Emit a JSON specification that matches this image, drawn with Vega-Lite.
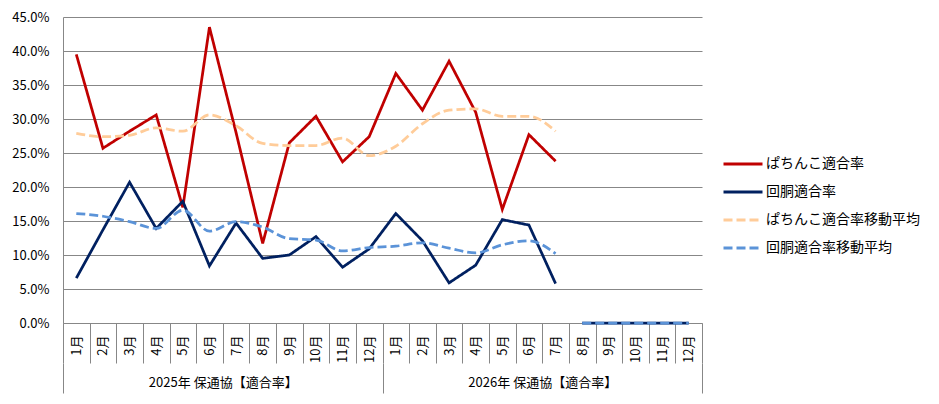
{
  "$schema": "https://vega.github.io/schema/vega-lite/v6.json",
  "autosize": {"type": "none"},
  "width": 639,
  "height": 306,
  "padding": {"left": 63, "top": 17, "right": 237, "bottom": 81},
  "background": "white",
  "config": {
    "font": "Noto Sans CJK JP",
    "view": {"stroke": null},
    "axis": {"labelColor": "#000", "domainColor": "#878787", "tickColor": "#878787", "gridColor": "#878787", "labelFont": "Noto Sans CJK JP"}
  },
  "data": {
    "values": [
      {"ym": "2025年1月", "year": "2025年 保通協【適合率】", "part": "a", "ぱちんこ適合率": 0.395, "回胴適合率": 0.066, "ぱちんこ適合率移動平均": 0.279, "回胴適合率移動平均": 0.161},
      {"ym": "2025年2月", "year": "2025年 保通協【適合率】", "part": "a", "ぱちんこ適合率": 0.257, "回胴適合率": 0.137, "ぱちんこ適合率移動平均": 0.274, "回胴適合率移動平均": 0.157},
      {"ym": "2025年3月", "year": "2025年 保通協【適合率】", "part": "a", "ぱちんこ適合率": 0.282, "回胴適合率": 0.207, "ぱちんこ適合率移動平均": 0.276, "回胴適合率移動平均": 0.149},
      {"ym": "2025年4月", "year": "2025年 保通協【適合率】", "part": "a", "ぱちんこ適合率": 0.306, "回胴適合率": 0.139, "ぱちんこ適合率移動平均": 0.287, "回胴適合率移動平均": 0.139},
      {"ym": "2025年5月", "year": "2025年 保通協【適合率】", "part": "a", "ぱちんこ適合率": 0.170, "回胴適合率": 0.179, "ぱちんこ適合率移動平均": 0.282, "回胴適合率移動平均": 0.166},
      {"ym": "2025年6月", "year": "2025年 保通協【適合率】", "part": "a", "ぱちんこ適合率": 0.435, "回胴適合率": 0.084, "ぱちんこ適合率移動平均": 0.306, "回胴適合率移動平均": 0.135},
      {"ym": "2025年7月", "year": "2025年 保通協【適合率】", "part": "a", "ぱちんこ適合率": 0.280, "回胴適合率": 0.147, "ぱちんこ適合率移動平均": 0.290, "回胴適合率移動平均": 0.149},
      {"ym": "2025年8月", "year": "2025年 保通協【適合率】", "part": "a", "ぱちんこ適合率": 0.117, "回胴適合率": 0.095, "ぱちんこ適合率移動平均": 0.264, "回胴適合率移動平均": 0.141},
      {"ym": "2025年9月", "year": "2025年 保通協【適合率】", "part": "a", "ぱちんこ適合率": 0.265, "回胴適合率": 0.100, "ぱちんこ適合率移動平均": 0.261, "回胴適合率移動平均": 0.124},
      {"ym": "2025年10月", "year": "2025年 保通協【適合率】", "part": "a", "ぱちんこ適合率": 0.304, "回胴適合率": 0.127, "ぱちんこ適合率移動平均": 0.261, "回胴適合率移動平均": 0.122},
      {"ym": "2025年11月", "year": "2025年 保通協【適合率】", "part": "a", "ぱちんこ適合率": 0.237, "回胴適合率": 0.082, "ぱちんこ適合率移動平均": 0.272, "回胴適合率移動平均": 0.106},
      {"ym": "2025年12月", "year": "2025年 保通協【適合率】", "part": "a", "ぱちんこ適合率": 0.274, "回胴適合率": 0.109, "ぱちんこ適合率移動平均": 0.246, "回胴適合率移動平均": 0.111},
      {"ym": "2026年1月", "year": "2026年 保通協【適合率】", "part": "a", "ぱちんこ適合率": 0.367, "回胴適合率": 0.161, "ぱちんこ適合率移動平均": 0.260, "回胴適合率移動平均": 0.113},
      {"ym": "2026年2月", "year": "2026年 保通協【適合率】", "part": "a", "ぱちんこ適合率": 0.313, "回胴適合率": 0.121, "ぱちんこ適合率移動平均": 0.293, "回胴適合率移動平均": 0.118},
      {"ym": "2026年3月", "year": "2026年 保通協【適合率】", "part": "a", "ぱちんこ適合率": 0.385, "回胴適合率": 0.059, "ぱちんこ適合率移動平均": 0.313, "回胴適合率移動平均": 0.110},
      {"ym": "2026年4月", "year": "2026年 保通協【適合率】", "part": "a", "ぱちんこ適合率": 0.310, "回胴適合率": 0.085, "ぱちんこ適合率移動平均": 0.315, "回胴適合率移動平均": 0.103},
      {"ym": "2026年5月", "year": "2026年 保通協【適合率】", "part": "a", "ぱちんこ適合率": 0.167, "回胴適合率": 0.152, "ぱちんこ適合率移動平均": 0.304, "回胴適合率移動平均": 0.115},
      {"ym": "2026年6月", "year": "2026年 保通協【適合率】", "part": "a", "ぱちんこ適合率": 0.277, "回胴適合率": 0.144, "ぱちんこ適合率移動平均": 0.304, "回胴適合率移動平均": 0.121},
      {"ym": "2026年7月", "year": "2026年 保通協【適合率】", "part": "a", "ぱちんこ適合率": 0.238, "回胴適合率": 0.058, "ぱちんこ適合率移動平均": 0.282, "回胴適合率移動平均": 0.102},
      {"ym": "2026年8月", "year": "2026年 保通協【適合率】", "part": "b", "ぱちんこ適合率": null, "回胴適合率": 0, "ぱちんこ適合率移動平均": null, "回胴適合率移動平均": 0},
      {"ym": "2026年9月", "year": "2026年 保通協【適合率】", "part": "b", "ぱちんこ適合率": null, "回胴適合率": 0, "ぱちんこ適合率移動平均": null, "回胴適合率移動平均": 0},
      {"ym": "2026年10月", "year": "2026年 保通協【適合率】", "part": "b", "ぱちんこ適合率": null, "回胴適合率": 0, "ぱちんこ適合率移動平均": null, "回胴適合率移動平均": 0},
      {"ym": "2026年11月", "year": "2026年 保通協【適合率】", "part": "b", "ぱちんこ適合率": null, "回胴適合率": 0, "ぱちんこ適合率移動平均": null, "回胴適合率移動平均": 0},
      {"ym": "2026年12月", "year": "2026年 保通協【適合率】", "part": "b", "ぱちんこ適合率": null, "回胴適合率": 0, "ぱちんこ適合率移動平均": null, "回胴適合率移動平均": 0}
    ]
  },
  "transform": [
    {"fold": ["ぱちんこ適合率", "回胴適合率", "ぱちんこ適合率移動平均", "回胴適合率移動平均"], "as": ["series", "rate"]},
    {"filter": "isValid(datum.rate)"}
  ],
  "layer": [
    {
      "encoding": {
        "x": {
          "field": "ym", "type": "ordinal", "sort": null, "bandPosition": 0.5,
          "scale": {"type": "band", "paddingInner": 0, "paddingOuter": 0},
          "axis": {
            "title": null, "grid": false, "labelExpr": "split(datum.value, '年')[1]",
            "labelAngle": 270, "tickBand": "extent", "tickSize": 40, "labelPadding": -28,
            "labelFontSize": 13
          }
        },
        "y": {
          "field": "rate", "type": "quantitative",
          "scale": {"domain": [0, 0.45]},
          "axis": {
            "title": null, "format": ".1%", "ticks": false, "labelPadding": 14,
            "values": [0, 0.05, 0.1, 0.15, 0.2, 0.25, 0.3, 0.35, 0.4, 0.45],
            "labelFontSize": 13
          }
        },
        "color": {
          "field": "series", "type": "nominal",
          "scale": {
            "domain": ["ぱちんこ適合率", "回胴適合率", "ぱちんこ適合率移動平均", "回胴適合率移動平均"],
            "range": ["#C00000", "#002060", "#FFCC99", "#5B93D8"]
          },
          "legend": {
            "title": null, "orient": "none", "legendX": 659, "legendY": 126,
            "symbolType": "stroke", "symbolSize": 1521, "symbolStrokeWidth": 3,
            "labelFontSize": 14, "labelOffset": 2, "rowPadding": -14.5, "labelColor": "#000"
          }
        },
        "strokeDash": {
          "field": "series", "type": "nominal",
          "scale": {
            "domain": ["ぱちんこ適合率", "回胴適合率", "ぱちんこ適合率移動平均", "回胴適合率移動平均"],
            "range": [[1, 0], [1, 0], [9, 4], [9, 4]]
          },
          "legend": {
            "title": null, "orient": "none", "legendX": 659, "legendY": 126,
            "symbolType": "stroke", "symbolSize": 1521, "symbolStrokeWidth": 3,
            "labelFontSize": 14, "labelOffset": 2, "rowPadding": -14.5, "labelColor": "#000"
          }
        },
        "detail": {"field": "part"}
      },
      "layer": [
        {
          "transform": [{"filter": "indexof(datum.series, '移動平均') < 0"}],
          "mark": {"type": "line", "strokeWidth": 2.75}
        },
        {
          "transform": [{"filter": "indexof(datum.series, '移動平均') >= 0"}],
          "mark": {"type": "line", "strokeWidth": 2.75, "interpolate": "monotone"}
        }
      ]
    },
    {
      "mark": {"type": "point", "opacity": 0},
      "encoding": {
        "x": {
          "field": "year", "type": "nominal", "sort": null,
          "scale": {"type": "band", "paddingInner": 0, "paddingOuter": 0},
          "axis": {
            "orient": "bottom", "offset": 40, "title": null, "grid": false, "domain": false,
            "tickBand": "extent", "tickSize": 30, "labelAngle": 0, "labelPadding": -17,
            "labelFontSize": 13
          }
        }
      }
    }
  ],
  "resolve": {"scale": {"x": "independent"}, "axis": {"x": "independent"}}
}
